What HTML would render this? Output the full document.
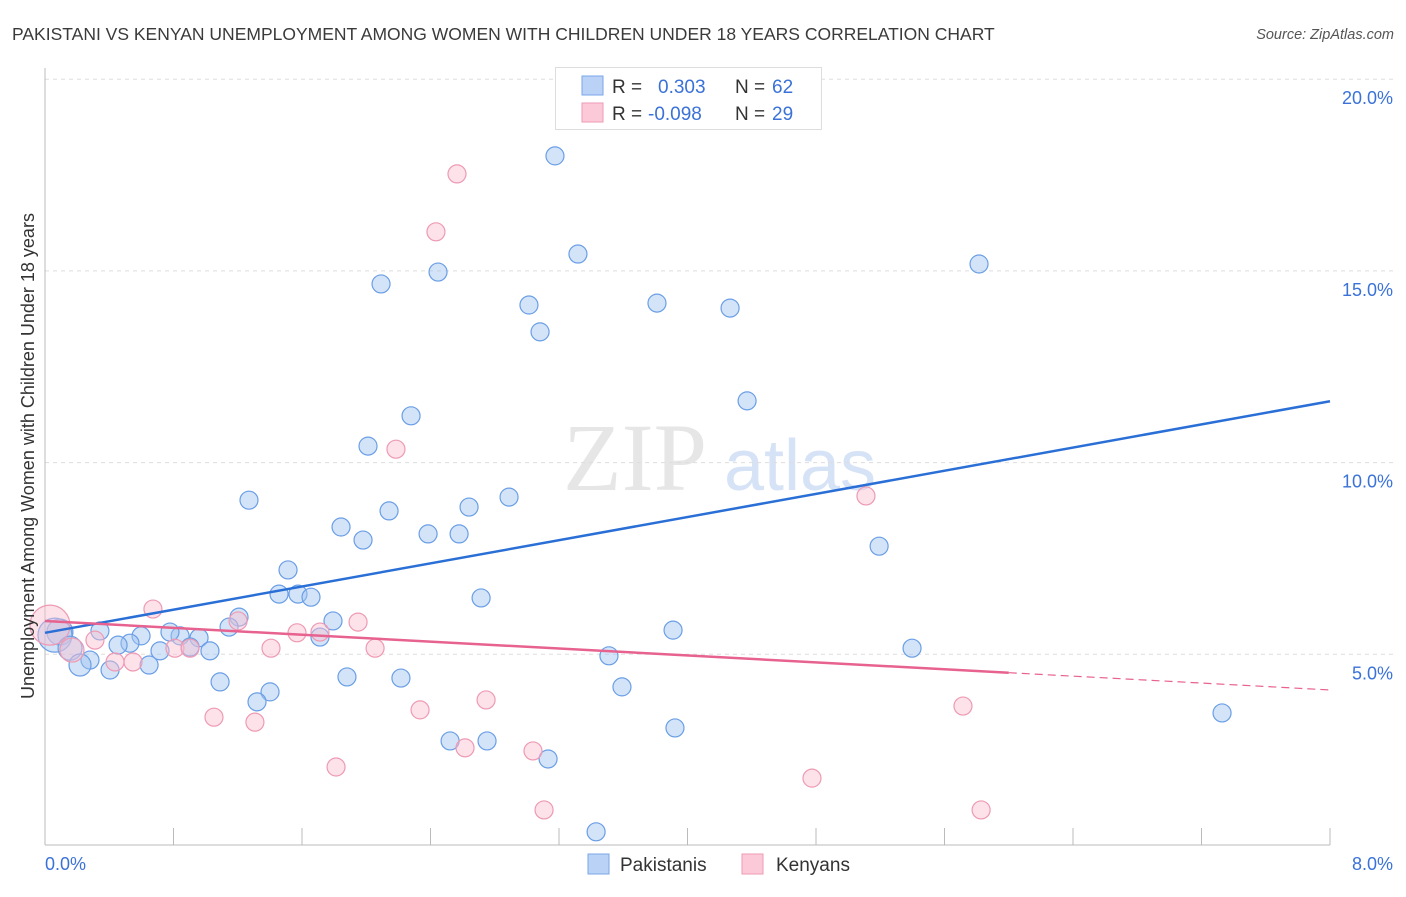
<!DOCTYPE html>
<html><head><meta charset="utf-8"><style>
body{margin:0;background:#fff;font-family:"Liberation Sans",sans-serif}
svg text{font-family:"Liberation Sans",sans-serif}
</style></head><body>
<svg id="chart" width="1406" height="892" viewBox="0 0 1406 892">
<text x="12" y="40" font-size="17.5" fill="#3a3a3a">PAKISTANI VS KENYAN UNEMPLOYMENT AMONG WOMEN WITH CHILDREN UNDER 18 YEARS CORRELATION CHART</text>
<text x="1394" y="39" font-size="14.5" fill="#555" text-anchor="end" font-style="italic">Source: ZipAtlas.com</text>
<g>
<text x="635" y="490" font-size="96" fill="#e6e6e6" text-anchor="middle" font-family="Liberation Serif, serif" style="font-family:'Liberation Serif',serif">ZIP</text>
<text x="800" y="490" font-size="72" fill="#d6e3f7" text-anchor="middle">atlas</text>
</g>
<g id="grid"></g>
<g id="axes"></g>
<g id="marks"></g>
<g>
<rect x="555.5" y="67.5" width="266" height="62" fill="#fff" stroke="#ddd"/>
<rect x="582" y="76" width="21" height="19" fill="#b9d2f5" stroke="#7aa6e8"/>
<rect x="582" y="103" width="21" height="19" fill="#fcc9d8" stroke="#ef9ab4"/>
<text x="612" y="93" font-size="19" fill="#333">R =</text>
<text x="658" y="93" font-size="19" fill="#3a72d8">0.303</text>
<text x="735" y="93" font-size="19" fill="#333">N =</text>
<text x="772" y="93" font-size="19" fill="#3a72d8">62</text>
<text x="612" y="120" font-size="19" fill="#333">R =</text>
<text x="648" y="120" font-size="19" fill="#3a72d8">-0.098</text>
<text x="735" y="120" font-size="19" fill="#333">N =</text>
<text x="772" y="120" font-size="19" fill="#3a72d8">29</text>
</g>
<g>
<rect x="588" y="854" width="21" height="20" fill="#b9d2f5" stroke="#7aa6e8"/>
<text x="620" y="871" font-size="19" fill="#333">Pakistanis</text>
<rect x="742" y="854" width="21" height="20" fill="#fcc9d8" stroke="#ef9ab4"/>
<text x="776" y="871" font-size="19" fill="#333">Kenyans</text>
</g>
<text x="34" y="456" font-size="18" fill="#333" text-anchor="middle" transform="rotate(-90 34 456)">Unemployment Among Women with Children Under 18 years</text>
</svg>
<script>
const xTickLabels=["0.0%","8.0%"];
const yTicks=[5,10,15,20];
const yTickLabels=["5.0%","10.0%","15.0%","20.0%"];
const blueX=[3.175,3.318,2.447,2.092,3.013,3.810,4.265,3.082,5.815,4.371,2.279,2.011,1.270,2.889,2.640,2.142,1.843,1.980,2.385,2.578,5.193,1.513,1.457,1.575,1.656,2.715,1.208,1.793,1.146,3.910,1.712,0.959,0.841,0.778,0.598,0.529,0.455,0.342,0.093,0.062,0.156,0.280,0.218,0.405,0.648,0.716,0.903,1.027,5.398,3.511,1.090,1.880,2.216,1.401,1.320,3.592,7.328,2.522,2.752,3.922,3.132,3.431];
const blueY=[18.0,15.44,14.97,14.66,14.11,14.16,14.03,13.41,15.18,11.61,11.22,10.43,9.02,9.10,8.84,8.74,8.32,7.98,8.14,8.14,7.82,7.20,6.57,6.57,6.49,6.47,5.97,5.87,5.71,5.63,5.45,5.43,5.48,5.58,5.48,5.29,5.24,5.61,5.58,5.50,5.16,4.85,4.72,4.59,4.72,5.09,5.19,5.09,5.16,4.96,4.28,4.41,4.38,4.02,3.76,4.15,3.47,2.74,2.74,3.08,2.27,0.37];
const blueR=[9,9,9,9,9,9,9,9,9,9,9,9,9,9,9,9,9,9,9,9,9,9,9,9,9,9,9,9,9,9,9,9,9,9,9,9,9,9,13,17,12,9,11,9,9,9,9,9,9,9,9,9,9,9,9,9,9,9,9,9,9,9];
const pinkX=[2.565,2.434,2.185,5.111,0.672,1.949,1.202,1.569,1.712,0.031,0.311,0.809,1.407,2.055,0.903,0.436,0.548,0.168,1.052,1.307,2.335,2.746,5.715,1.812,2.615,3.038,4.775,3.107,5.828];
const pinkY=[17.53,16.02,10.35,9.13,6.18,5.84,5.87,5.56,5.58,5.76,5.37,5.16,5.16,5.16,5.16,4.80,4.80,5.11,3.36,3.23,3.55,3.81,3.65,2.06,2.56,2.48,1.77,0.94,0.94];
const pinkR=[9,9,9,9,9,9,9,9,9,20,9,9,9,9,9,9,9,12,9,9,9,9,9,9,9,9,9,9,9];
const blueTrend=[5.56,11.6];
const pinkTrend=[5.87,4.07];
const pinkSolidEnd=6.0;
const X0=45,X1=1330,Y0=846,PY=191.7/5;
const sx=v=>X0+(X1-X0)*v/8, sy=v=>Y0-v*PY;
const NS="http://www.w3.org/2000/svg";
function mk(tag,attrs,parent){const e=document.createElementNS(NS,tag);for(const k in attrs)e.setAttribute(k,attrs[k]);parent.appendChild(e);return e;}
const grid=document.getElementById('grid'),axes=document.getElementById('axes'),marks=document.getElementById('marks');
yTicks.forEach((t,i)=>{
 const l=mk('line',{x1:X0,x2:1394,y1:sy(t),y2:sy(t),stroke:'#ddd','stroke-dasharray':'4,4'},grid);
 
 
 const tx=mk('text',{x:1393,y:sy(t)+25,'font-size':18,fill:'#3a72d8','text-anchor':'end'},axes);
 tx.textContent=yTickLabels[i];
 
 
});
const ax=mk('line',{x1:X0,x2:X0,y1:68,y2:845,stroke:'#bbb'},axes);


const bx=mk('line',{x1:X0,x2:X1,y1:845,y2:845,stroke:'#bbb'},axes);


for(let i=0;i<=10;i++){const v=i*0.8;const t=mk('line',{x1:sx(v),x2:sx(v),y1:828,y2:845,stroke:'#bbb'},axes);
 
 }
const xl0=mk('text',{x:X0,y:870,'font-size':18,fill:'#3a72d8'},axes);xl0.textContent=xTickLabels[0];


const xl1=mk('text',{x:1393,y:870,'font-size':18,fill:'#3a72d8','text-anchor':'end'},axes);xl1.textContent=xTickLabels[1];


blueX.forEach((x,i)=>{const c=mk('circle',{cx:sx(x),cy:sy(blueY[i]),r:blueR[i],fill:'rgba(160,196,240,0.45)',stroke:'#6a9ee6','stroke-width':1.2},marks);
 
 });
pinkX.forEach((x,i)=>{const c=mk('circle',{cx:sx(x),cy:sy(pinkY[i]),r:pinkR[i],fill:'rgba(250,190,208,0.45)',stroke:'#ee9ab3','stroke-width':1.2},marks);
 
 });
const bl=mk('line',{x1:sx(0),y1:sy(blueTrend[0]),x2:sx(8),y2:sy(blueTrend[1]),stroke:'#2a6fd6','stroke-width':2.5},marks);


const pe=pinkTrend[0]+(pinkTrend[1]-pinkTrend[0])*pinkSolidEnd/8;
const pl=mk('line',{x1:sx(0),y1:sy(pinkTrend[0]),x2:sx(pinkSolidEnd),y2:sy(pe),stroke:'#e8628f','stroke-width':2.5},marks);


const pd=mk('line',{x1:sx(pinkSolidEnd),y1:sy(pe),x2:sx(8),y2:sy(pinkTrend[1]),stroke:'#e8628f','stroke-width':1.2,'stroke-dasharray':'8,5'},marks);


</script>
</body></html>
